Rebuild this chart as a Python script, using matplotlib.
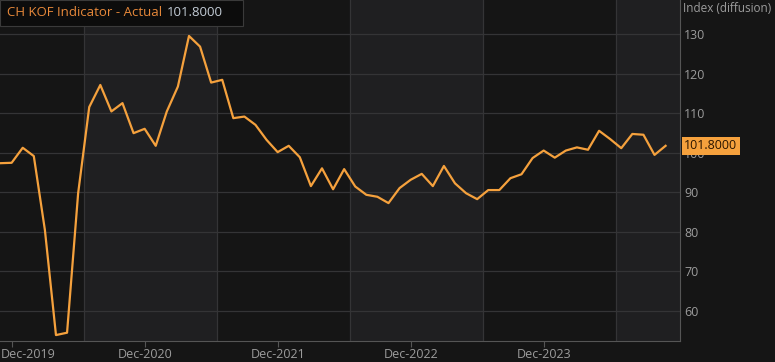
import numpy as np
import matplotlib.pyplot as plt
import matplotlib.patches as mpatches
from matplotlib.transforms import ScaledTranslation

plt.rcParams['font.family'] = ['Open Sans', 'DejaVu Sans']

# KOF monthly readings, Nov-2019 .. Nov-2024
months = ["Nov-2019", "Dec-2019", "Jan-2020", "Feb-2020", "Mar-2020", "Apr-2020", "May-2020",
          "Jun-2020", "Jul-2020", "Aug-2020", "Sep-2020", "Oct-2020", "Nov-2020", "Dec-2020",
          "Jan-2021", "Feb-2021", "Mar-2021", "Apr-2021", "May-2021", "Jun-2021", "Jul-2021",
          "Aug-2021", "Sep-2021", "Oct-2021", "Nov-2021", "Dec-2021", "Jan-2022", "Feb-2022",
          "Mar-2022", "Apr-2022", "May-2022", "Jun-2022", "Jul-2022", "Aug-2022", "Sep-2022",
          "Oct-2022", "Nov-2022", "Dec-2022", "Jan-2023", "Feb-2023", "Mar-2023", "Apr-2023",
          "May-2023", "Jun-2023", "Jul-2023", "Aug-2023", "Sep-2023", "Oct-2023", "Nov-2023",
          "Dec-2023", "Jan-2024", "Feb-2024", "Mar-2024", "Apr-2024", "May-2024", "Jun-2024",
          "Jul-2024", "Aug-2024", "Sep-2024", "Oct-2024", "Nov-2024"]
kof = [97.4, 97.5, 101.3, 99.2, 80.5, 53.9, 54.5,
       89.8, 111.6, 117.2, 110.5, 112.6, 105.0, 106.1,
       101.8, 110.5, 116.8, 129.6, 126.9, 117.8, 118.5,
       108.8, 109.2, 107.1, 103.3, 100.2, 101.8, 98.9,
       91.6, 96.1, 90.8, 95.9, 91.5, 89.4, 88.9,
       87.3, 91.1, 93.2, 94.7, 91.6, 96.7, 92.3,
       89.8, 88.3, 90.6, 90.6, 93.6, 94.6, 98.7,
       100.6, 98.8, 100.6, 101.4, 100.8, 105.6, 103.5,
       101.2, 104.8, 104.6, 99.5, 101.8]
tick_labels = ["Dec-2019", "Dec-2020", "Dec-2021", "Dec-2022", "Dec-2023"]
y_ticks = [60, 70, 80, 90, 100, 110, 120, 130]

x = np.arange(len(kof))
tick_pos = [months.index(t) for t in tick_labels]

bg = "#151515"
band = "#1f1f21"
grid_c = "#343436"
orange = "#f5a13d"
txt = "#9c9c9c"

fig = plt.figure(figsize=(7.75, 3.62), dpi=100, facecolor=bg)
ax = fig.add_axes([0, 21 / 362, 680 / 775, 341 / 362])
ax.set_facecolor(bg)
ax.set_xlim(-0.05, 61.3)
ax.set_ylim(52.4, 138.7)

# alternating yearly bands (Jul..Jun)
edges = [7.5, 19.5, 31.5, 43.5, 55.5]
for a, b in [(7.5, 19.5), (31.5, 43.5), (55.5, 61.3)]:
    ax.axvspan(a, b, color=band, zorder=0, lw=0)
for e in edges:
    ax.axvline(e, color=grid_c, lw=0.9, zorder=1)
for v in y_ticks:
    ax.axhline(v, color=grid_c, lw=0.9, zorder=1)

ax.plot(x, kof, color=orange, lw=1.6, zorder=3)

for s in ["top", "left"]:
    ax.spines[s].set_visible(False)
ax.spines["bottom"].set_color("#555555")
ax.spines["right"].set_color("#555555")

ax.set_xticks(tick_pos)
ax.set_xticklabels(tick_labels, color=txt, fontsize=9)
ax.tick_params(axis="x", length=4, color="#555555", pad=1)
first = ax.get_xticklabels()[0]
first.set_ha("left")
first.set_transform(first.get_transform() + ScaledTranslation(-11 / 100, 0, fig.dpi_scale_trans))

ax.yaxis.tick_right()
ax.set_yticks(y_ticks)
ax.set_yticklabels([str(v) for v in y_ticks], color=txt, fontsize=9)
ax.tick_params(axis="y", length=0, pad=3)

fig.text(683 / 775, 1 - 9 / 362, "Index (diffusion)", color=txt, fontsize=8.5,
         ha="left", va="center")

# last value tag
last = kof[-1]
ax.annotate(f"{last:.4f}", xy=(1.0, last), xycoords=("axes fraction", "data"),
            xytext=(3, 0), textcoords="offset points", ha="left", va="center",
            fontsize=9, color="#2a1500",
            bbox=dict(boxstyle="square,pad=0.2", fc=orange, ec="none"),
            annotation_clip=False, zorder=6)

# title box
fig.patches.append(mpatches.Rectangle((0, 1 - 26 / 362), 243 / 775, 26 / 362,
                                      transform=fig.transFigure, fc="#0c0c0c",
                                      ec="#3a3a3a", lw=0.8, zorder=5))
fig.text(7 / 775, 1 - 12 / 362, "CH KOF Indicator - Actual", color="#e8893a",
         fontsize=9.5, ha="left", va="center", zorder=6)
fig.text(167 / 775, 1 - 12 / 362, f"{last:.4f}", color="#c3ccd6",
         fontsize=9.5, ha="left", va="center", zorder=6)

fig.savefig("out.png", dpi=100, facecolor=bg)
